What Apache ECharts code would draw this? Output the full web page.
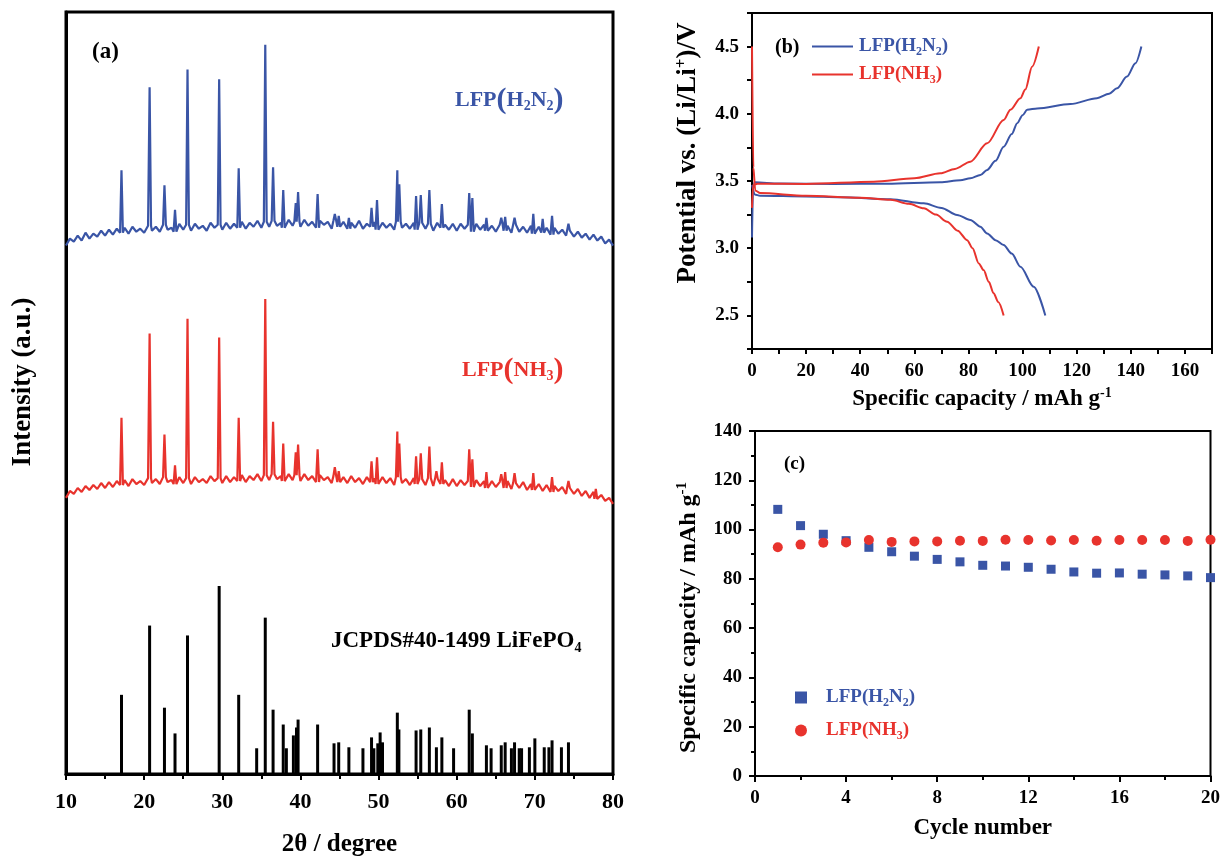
<!DOCTYPE html>
<html>
<head>
<meta charset="utf-8">
<script src="https://cdn.jsdelivr.net/npm/echarts@6/dist/echarts.min.js"></script>
<style>html,body{margin:0;padding:0;background:#fff;}#c{width:1223px;height:862px;}</style>
</head>
<body>
<div id="c"></div>
<script>
// ---------- Panel (a): XRD ----------
const xrdStart = 10, xrdStep = 0.5;
const blueBase = [
534,541,538,544,539,547,541,546,543,549,
544,550,545,551,547,552,546,553,548,551,
547,554,549,553,548,555,550,552,548,556,
550,555,549,556,551,554,549,557,552,555,
550,557,551,556,552,558,551,557,553,559,
552,558,553,559,554,557,552,560,554,558,
553,560,554,558,552,559,555,558,551,559,
553,558,551,557,552,559,551,556,553,558,
550,557,552,556,550,558,552,556,551,557,
550,557,551,556,549,557,552,555,550,556,
549,556,551,555,548,556,550,555,549,554,
548,555,549,554,547,555,548,553,547,554,
546,553,547,552,545,552,546,550,544,549,
543,548,542,546,540,545,539,543,536,540,
534];
const bluePeaks = [[17.1,610],[20.7,694],[22.6,595],[23.95,570],[25.55,712],[29.6,702],[32.1,612],[35.5,737],[36.5,613],[37.8,590],[39.4,577],[39.7,588],[42.2,586],[44.4,566],[44.9,564],[46.2,562],[49.1,572],[49.8,580],[52.4,610],[52.65,596],[54.8,584],[55.4,585],[56.5,590],[58.1,576],[61.6,587],[62.0,582],[63.8,562],[65.7,562],[66.2,563],[67.4,562],[69.8,566],[71.0,561],[72.2,564],[74.3,556]];
const redBase = [
279,286,283,289,285,291,287,292,288,294,
289,295,290,296,292,297,291,298,293,296,
292,299,294,298,293,300,295,297,293,300,
294,299,293,300,295,298,294,301,296,299,
294,301,295,300,296,302,295,301,297,303,
296,302,297,303,298,301,296,303,297,302,
296,303,297,301,295,302,297,300,294,301,
295,300,294,301,295,299,293,300,295,299,
293,300,294,299,292,300,294,298,292,299,
293,298,292,299,291,298,293,297,291,298,
291,297,292,296,290,297,291,296,289,296,
290,295,289,296,288,294,289,295,287,293,
287,293,286,292,285,291,286,290,283,289,
283,288,281,286,279,285,278,282,276,279,
273];
const redPeaks = [[17.1,360],[20.7,445],[22.6,343],[23.95,312],[25.55,460],[29.6,441],[32.1,360],[35.5,480],[36.5,356],[37.8,334],[39.4,325],[39.7,333],[42.2,328],[44.4,310],[44.9,306],[49.1,316],[49.8,320],[52.4,346],[52.65,334],[54.8,321],[55.4,324],[56.5,331],[57.4,306],[58.1,315],[61.6,328],[62.0,318],[63.8,305],[65.7,303],[66.2,305],[67.4,304],[69.8,304],[72.2,300],[74.3,296],[77.8,288]];
// JCPDS#40-1499 reference sticks [2theta, intensity]
const stickPos = [17.1,20.7,22.6,23.95,25.55,29.6,32.1,34.4,35.5,36.5,37.8,38.2,39.1,39.5,39.7,42.2,44.3,44.9,46.2,48.0,49.1,49.4,49.9,50.2,50.5,52.4,52.6,54.8,55.4,56.5,57.4,58.1,59.6,61.6,62.0,63.8,64.4,65.7,66.2,67.0,67.4,68.0,68.3,69.3,70.0,71.2,71.8,72.2,73.4,74.3];
const stickInt = [80,150,67,41,140,190,80,26,158,65,50,26,39,47,55,50,31,32,27,26,37,26,31,42,32,62,45,44,45,47,27,37,26,65,41,29,26,29,32,26,32,26,26,27,36,27,27,34,27,32];

// ---------- Panel (b): charge/discharge ----------
const bChargeH2N2 = [[0,3.08],[0.4,3.45],[1,3.49],[10,3.482],[30,3.478],[50,3.48],[69.6,3.49],[77,3.505],[80.7,3.52],[84.4,3.545],[86.9,3.582],[90,3.65],[93,3.755],[96,3.85],[98,3.93],[100,3.99],[101.7,4.03],[105.4,4.04],[117.7,4.073],[127.5,4.116],[132,4.15],[134.9,4.19],[138.6,4.277],[141.7,4.376],[143.9,4.5]];
const bDischargeH2N2 = [[0,3.47],[1,3.40],[3,3.39],[20,3.385],[32.7,3.379],[51.2,3.364],[63.5,3.334],[70,3.30],[75.8,3.247],[80.7,3.21],[84.4,3.16],[86.9,3.11],[90,3.06],[93,3.023],[96,2.96],[99.2,2.862],[104.1,2.713],[108.4,2.5]];
const bChargeNH3 = [[0,3.3],[0.4,3.47],[2,3.48],[20,3.478],[45,3.495],[60,3.52],[69.6,3.557],[75,3.59],[80.7,3.644],[86.9,3.78],[93,3.954],[95.5,4.03],[99.2,4.116],[101,4.18],[103.5,4.35],[106,4.5]];
const bDischargeNH3 = [[0,4.5],[0.5,3.6],[1.2,3.43],[3,3.41],[20,3.39],[40,3.375],[51.2,3.36],[58,3.33],[63.5,3.297],[68,3.25],[72.1,3.197],[76,3.13],[79.5,3.06],[81.5,3.0],[83.8,2.887],[85.6,2.837],[87.5,2.75],[89.3,2.664],[91,2.6],[93,2.5]];

// ---------- Panel (c): cycling ----------
const cycles = [1,2,3,4,5,6,7,8,9,10,11,12,13,14,15,16,17,18,19,20];
const capH2N2 = [108.2,101.6,98.1,95.5,92.8,91.0,89.2,87.9,86.9,85.5,85.2,84.7,83.9,82.8,82.3,82.4,81.9,81.6,81.2,80.5];
const capNH3 = [92.8,93.9,94.7,94.8,95.8,95.0,95.2,95.2,95.5,95.4,95.9,95.8,95.6,95.8,95.5,95.8,95.8,95.8,95.4,95.9];

const BLUE = '#3a55a6', RED = '#e8332d', BLACK = '#000';
const F = "'Liberation Serif','Times New Roman',serif";

function profile(base, peaks) {
  const hw = 0.18;
  const pts = [];
  base.forEach((v, i) => {
    const x = xrdStart + i * xrdStep;
    if (!peaks.some(p => Math.abs(p[0] - x) <= hw + 0.01)) pts.push([x, v]);
  });
  peaks.forEach(p => {
    const v = base[Math.round((p[0] - xrdStart) / xrdStep)];
    pts.push([p[0] - hw, v], [p[0], p[1]], [p[0] + hw, v]);
  });
  pts.sort((a, b) => a[0] - b[0]);
  return pts;
}

function rich(size, color) {
  const s = Math.round(size * 0.62);
  return {
    t: {fontFamily: F, fontWeight: 'bold', fontSize: size, color: color, lineHeight: size + 4},
    p: {fontFamily: F, fontWeight: 'bold', fontSize: Math.round(size * 1.35), color: color, lineHeight: size + 4},
    s: {fontFamily: F, fontWeight: 'bold', fontSize: s, color: color, lineHeight: s, verticalAlign: 'bottom'},
    u: {fontFamily: F, fontWeight: 'bold', fontSize: s, color: color, lineHeight: s, verticalAlign: 'top'}
  };
}
const labelStyle = (size) => ({fontFamily: F, fontWeight: 'bold', fontSize: size, color: BLACK});

const chart = echarts.init(document.getElementById('c'), null, {renderer: 'canvas'});

const legendRich = Object.assign({},
  (() => { const r = rich(19, BLUE); return {bt: r.t, bs: r.s}; })(),
  (() => { const r = rich(19, RED); return {rt: r.t, rs: r.s}; })());
function legendFmt(name) {
  return name.indexOf('H2N2') >= 0 ? '{bt|LFP(H}{bs|2}{bt|N}{bs|2}{bt|)}' : '{rt|LFP(NH}{rs|3}{rt|)}';
}

const option = {
  animation: false,
  backgroundColor: '#fff',
  grid: [
    {left: 66, top: 12, width: 547, height: 770, show: true, borderColor: BLACK, borderWidth: 3},
    {left: 752, top: 13, width: 460, height: 336, show: true, borderColor: BLACK, borderWidth: 2},
    {left: 755, top: 431, width: 457, height: 345, show: true, borderColor: BLACK, borderWidth: 2}
  ],
  title: [
    {text: '(a)', left: 87, top: 36, textStyle: labelStyle(23)},
    {text: '{t|LFP}{p|(}{t|H}{s|2}{t|N}{s|2}{p|)}', left: 450, top: 82, textStyle: {rich: rich(22, BLUE)}},
    {text: '{t|LFP}{p|(}{t|NH}{s|3}{p|)}', left: 457, top: 352, textStyle: {rich: rich(22, RED)}},
    {text: '{t|JCPDS#40-1499 LiFePO}{s|4}', left: 326, top: 623, textStyle: {rich: rich(23, BLACK)}},
    {text: '(b)', left: 770, top: 33, textStyle: labelStyle(20)},
    {text: '(c)', left: 779, top: 450, textStyle: labelStyle(19)}
  ],
  legend: [
    {data: [{name: 'b-H2N2', icon: 'rect'}, {name: 'b-NH3', icon: 'rect'}], left: 807, top: 32, orient: 'vertical',
      itemWidth: 41, itemHeight: 2, itemGap: 7,
      selectedMode: false, formatter: legendFmt, textStyle: {padding: [0, 0, 0, 1], rich: legendRich}},
    {data: ['c-H2N2', 'c-NH3'], left: 790, top: 683, orient: 'vertical', itemWidth: 12, itemHeight: 12, itemGap: 12,
      selectedMode: false, formatter: legendFmt, textStyle: {padding: [0, 0, 0, 14], rich: legendRich}}
  ],
  xAxis: [
    {gridIndex: 0, type: 'value', min: 10, max: 80, interval: 10,
      axisLine: {show: true, lineStyle: {color: BLACK, width: 3}},
      axisTick: {show: true, length: 6, lineStyle: {color: BLACK, width: 2}},
      minorTick: {show: true, splitNumber: 2, length: 5, lineStyle: {color: BLACK, width: 2}},
      splitLine: {show: false},
      axisLabel: Object.assign({margin: 17}, labelStyle(22)),
      name: '2θ / degree', nameLocation: 'middle', nameGap: 58, nameTextStyle: labelStyle(25)},
    {gridIndex: 1, type: 'value', min: 0, max: 170, interval: 10,
      axisLine: {show: true, lineStyle: {color: BLACK, width: 2}},
      axisTick: {show: true, length: 5, lineStyle: {color: BLACK, width: 2}},
      splitLine: {show: false},
      axisLabel: Object.assign({margin: 13, formatter: v => (v % 20 === 0 && v <= 160) ? String(v) : ''}, labelStyle(19)),
      name: '{t|Specific capacity / mAh g}{u|-1}', nameLocation: 'middle', nameGap: 37,
      nameTextStyle: {rich: rich(23, BLACK)}},
    {gridIndex: 2, type: 'value', min: 0, max: 20, interval: 4,
      axisLine: {show: true, lineStyle: {color: BLACK, width: 2}},
      axisTick: {show: true, length: 6, lineStyle: {color: BLACK, width: 2}},
      minorTick: {show: true, splitNumber: 2, length: 4, lineStyle: {color: BLACK, width: 2}},
      splitLine: {show: false},
      axisLabel: Object.assign({margin: 13}, labelStyle(19)),
      name: 'Cycle number', nameLocation: 'middle', nameGap: 41, nameTextStyle: labelStyle(23)}
  ],
  yAxis: [
    {gridIndex: 0, type: 'value', min: 0, max: 770,
      axisLine: {show: true, lineStyle: {color: BLACK, width: 3}},
      axisTick: {show: false}, axisLabel: {show: false}, splitLine: {show: false},
      name: 'Intensity (a.u.)', nameLocation: 'middle', nameGap: 29,
      nameTextStyle: Object.assign({padding: [0, 0, 0, 22]}, labelStyle(27))},
    {gridIndex: 1, type: 'value', min: 2.25, max: 4.75, interval: 0.25,
      axisLine: {show: true, lineStyle: {color: BLACK, width: 2}},
      axisTick: {show: true, length: 5, lineStyle: {color: BLACK, width: 2}},
      splitLine: {show: false},
      axisLabel: Object.assign({margin: 13, formatter: v => { const r = Math.round(v * 100); return (r % 50 === 0 && r >= 250 && r <= 450) ? v.toFixed(1) : ''; }}, labelStyle(19)),
      name: '{t|Potential vs. (Li/Li}{u|+}{t|)/V}', nameLocation: 'middle', nameGap: 48,
      nameTextStyle: {padding: [0, 0, 0, 56], rich: rich(27, BLACK)}},
    {gridIndex: 2, type: 'value', min: 0, max: 140, interval: 20,
      axisLine: {show: true, lineStyle: {color: BLACK, width: 2}},
      axisTick: {show: true, length: 6, lineStyle: {color: BLACK, width: 2}},
      minorTick: {show: true, splitNumber: 2, length: 4, lineStyle: {color: BLACK, width: 2}},
      splitLine: {show: false},
      axisLabel: Object.assign({margin: 13}, labelStyle(19)),
      name: '{t|Specific capacity / mAh g}{u|-1}', nameLocation: 'middle', nameGap: 52,
      nameTextStyle: {padding: [0, 28, 0, 0], rich: rich(24, BLACK)}}
  ],
  series: [
    {type: 'bar', xAxisIndex: 0, yAxisIndex: 0, barWidth: 3, silent: true,
      itemStyle: {color: BLACK}, data: stickPos.map((x, i) => [x, stickInt[i]])},
    {type: 'line', xAxisIndex: 0, yAxisIndex: 0, symbol: 'none', silent: true,
      lineStyle: {color: BLUE, width: 2.2}, data: profile(blueBase, bluePeaks)},
    {type: 'line', xAxisIndex: 0, yAxisIndex: 0, symbol: 'none', silent: true,
      lineStyle: {color: RED, width: 2.2}, data: profile(redBase, redPeaks)},
    {name: 'b-H2N2', type: 'line', xAxisIndex: 1, yAxisIndex: 1, symbol: 'none', smooth: 0.3, smoothMonotone: 'x',
      itemStyle: {color: BLUE}, lineStyle: {color: BLUE, width: 2}, data: bChargeH2N2},
    {name: 'b-H2N2', type: 'line', xAxisIndex: 1, yAxisIndex: 1, symbol: 'none', smooth: 0.3, smoothMonotone: 'x',
      itemStyle: {color: BLUE}, lineStyle: {color: BLUE, width: 2}, data: bDischargeH2N2},
    {name: 'b-NH3', type: 'line', xAxisIndex: 1, yAxisIndex: 1, symbol: 'none', smooth: 0.3, smoothMonotone: 'x',
      itemStyle: {color: RED}, lineStyle: {color: RED, width: 2}, data: bChargeNH3},
    {name: 'b-NH3', type: 'line', xAxisIndex: 1, yAxisIndex: 1, symbol: 'none', smooth: 0.3, smoothMonotone: 'x',
      itemStyle: {color: RED}, lineStyle: {color: RED, width: 2}, data: bDischargeNH3},
    {name: 'c-H2N2', type: 'scatter', xAxisIndex: 2, yAxisIndex: 2, symbol: 'rect', symbolSize: 9,
      itemStyle: {color: BLUE, opacity: 1}, data: cycles.map((c, i) => [c, capH2N2[i]])},
    {name: 'c-NH3', type: 'scatter', xAxisIndex: 2, yAxisIndex: 2, symbol: 'circle', symbolSize: 10,
      itemStyle: {color: RED, opacity: 1}, data: cycles.map((c, i) => [c, capNH3[i]])}
  ]
};
chart.setOption(option);
</script>
</body>
</html>
